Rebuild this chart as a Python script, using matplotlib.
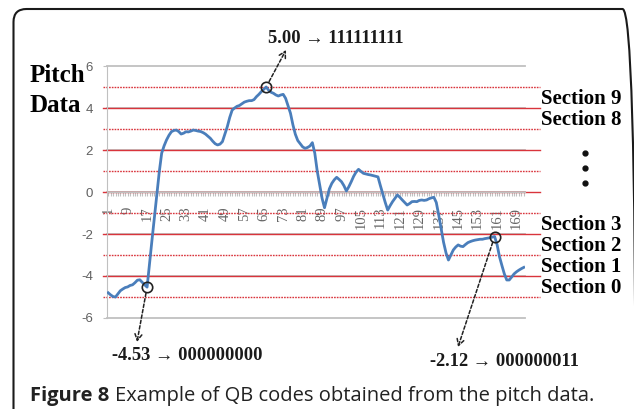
import matplotlib
matplotlib.use("Agg")
import matplotlib.pyplot as plt
from matplotlib.patches import FancyBboxPatch
from matplotlib.transforms import IdentityTransform

# pitch value per frame
pitch = [
    -4.80, -4.90, -4.98, -5.00, -4.85, -4.70, -4.62, -4.55,
    -4.52, -4.45, -4.42, -4.32, -4.20, -4.18, -4.30, -4.42,
    -4.53, -3.40, -2.30, -1.20, -0.10, 0.95, 1.85, 2.20,
    2.48, 2.70, 2.87, 2.93, 2.95, 2.88, 2.76, 2.80,
    2.87, 2.86, 2.90, 2.95, 2.93, 2.90, 2.88, 2.83,
    2.76, 2.66, 2.56, 2.42, 2.30, 2.24, 2.28, 2.40,
    2.75, 3.11, 3.55, 3.90, 4.00, 4.08, 4.12, 4.20,
    4.28, 4.32, 4.35, 4.35, 4.40, 4.54, 4.65, 4.78,
    4.89, 5.00, 4.85, 4.75, 4.70, 4.62, 4.57, 4.62,
    4.65, 4.46, 4.10, 3.75, 3.20, 2.75, 2.45, 2.30,
    2.15, 2.08, 2.12, 2.19, 2.35, 1.85, 1.00, 0.35,
    -0.30, -0.75, -0.30, 0.15, 0.41, 0.58, 0.70, 0.60,
    0.49, 0.30, 0.05, 0.25, 0.49, 0.75, 0.95, 1.08,
    0.98, 0.89, 0.86, 0.83, 0.81, 0.78, 0.75, 0.72,
    0.30, -0.10, -0.50, -0.86, -0.65, -0.46, -0.30, -0.14,
    -0.25, -0.38, -0.50, -0.62, -0.55, -0.46, -0.45, -0.46,
    -0.40, -0.38, -0.40, -0.38, -0.32, -0.28, -0.25, -0.50,
    -1.10, -1.75, -2.40, -2.90, -3.24, -3.00, -2.76, -2.62,
    -2.52, -2.58, -2.60, -2.50, -2.41, -2.36, -2.32, -2.29,
    -2.27, -2.25, -2.25, -2.22, -2.20, -2.18, -2.15, -2.12,
    -2.50, -3.08, -3.50, -3.90, -4.19, -4.19, -4.05, -3.90,
    -3.80, -3.72, -3.65, -3.59,
]
frames = list(range(1, len(pitch) + 1))
label_frames = list(range(1, 170, 8))
y_ticks = [-6, -4, -2, 0, 2, 4, 6]
section_bounds = [-5, -4, -3, -2, -1, 0, 1, 2, 3, 4, 5]
section_ids = [9, 8, 3, 2, 1, 0]

# (frame, caption, text position in px, arrow head in px, text align)
marks = [
    (17, "-4.53 \u2192 000000000", (112, 49), (137, 67), "left"),
    (66, "5.00 \u2192 111111111", (336, 366), (286, 359), "center"),
    (160, "-2.12 \u2192 000000011", (430, 43), (458, 62), "left"),
]

W, H = 634, 409
fig = plt.figure(figsize=(W / 100, H / 100), dpi=100)
fig.patch.set_facecolor("white")

# rounded frame around the figure
frame = FancyBboxPatch((13.5, -40), 622, 449 - 9, boxstyle="round,pad=0,rounding_size=13",
                       transform=IdentityTransform(), fill=False, ec="#1a1a1a", lw=1.5)
fig.add_artist(frame)

ax = fig.add_axes([107 / W, 1 - 318 / H, 418 / W, 252 / H])
ax.set_facecolor("none")
ax.set_xlim(0.5, len(pitch) + 0.5)
ax.set_ylim(-6, 6)

serif = ["Liberation Serif", "DejaVu Serif"]
red = "#d9343c"
grey = "#c0c0c0"

# excel style gridlines
for y in y_ticks:
    ax.axhline(y, color=grey, lw=1.3, zorder=1, clip_on=False)

# section boundaries, wider than the plot area
for b in section_bounds:
    ls = "-" if b % 2 == 0 else (0, (1.2, 0.8))
    ax.plot([-0.01, 1.036], [b, b], transform=ax.get_yaxis_transform(), color=red,
            lw=1.0, ls=ls, clip_on=False, zorder=2)

ax.plot(frames, pitch, color="#4a7ebb", lw=2.0, zorder=3, solid_joinstyle="round")

for f, txt, tpos, hpos, ha in marks:
    ax.plot(f, pitch[f - 1], "o", mfc="none", mec="#222222", ms=7.5, mew=1.2, zorder=4)
    ax.annotate("", xy=hpos, xycoords="figure pixels", xytext=(f, pitch[f - 1]),
                textcoords="data",
                arrowprops=dict(arrowstyle="->,head_length=0.45,head_width=0.25",
                                ls=(0, (2.2, 1.4)), color="#222222", lw=1.1,
                                shrinkA=4.5, shrinkB=0))
    fig.text(tpos[0] / W, tpos[1] / H, txt, ha=ha, va="baseline", family=serif,
             fontweight="bold", fontsize=13.3, color="#1a1a1a")

for s in ["top", "right"]:
    ax.spines[s].set_visible(False)
ax.spines["left"].set_color(grey)
ax.spines["bottom"].set_position(("data", 0))
ax.spines["bottom"].set_color(grey)

ax.set_yticks(y_ticks)
ax.set_yticklabels([str(v) for v in y_ticks], family="Liberation Sans", fontsize=9.5,
                   color="#606060")
ax.tick_params(axis="y", length=3, color=grey, pad=7)

ax.set_xticks(frames)
ax.set_xticklabels([str(f) if f in label_frames else "" for f in frames],
                   rotation=90, family=serif, fontsize=10.5, color="#666666")
ax.tick_params(axis="x", length=3, width=0.8, color=grey, pad=7.5)

# axis title, placed like the original
fig.text(30 / W, 1 - 82 / H, "Pitch", family=serif, fontweight="bold", fontsize=18,
         va="baseline")
fig.text(30 / W, 1 - 112 / H, "Data", family=serif, fontweight="bold", fontsize=18,
         va="baseline")

# section names on the right
for k in section_ids:
    ax.text(1.038, k - 5 + 0.19, "Section %d" % k, transform=ax.get_yaxis_transform(),
            family=serif, fontweight="bold", fontsize=15, va="baseline")
ax.plot([1.1435] * 3, [1.85, 1.15, 0.45], "o", color="#111111", ms=3.5,
        transform=ax.get_yaxis_transform(), clip_on=False)

# caption: bold lead then regular text
cap = fig.text(30 / W, 8 / H, "Figure 8", family="Open Sans", fontweight="bold",
               fontsize=14.5, va="baseline", color="#222222")
fig.canvas.draw()
bb = cap.get_window_extent()
fig.text((bb.x1 + 6) / W, 8 / H, "Example of QB codes obtained from the pitch data.",
         family="Open Sans", fontsize=14.5, va="baseline", color="#222222")

fig.savefig("out.png", dpi=100)
